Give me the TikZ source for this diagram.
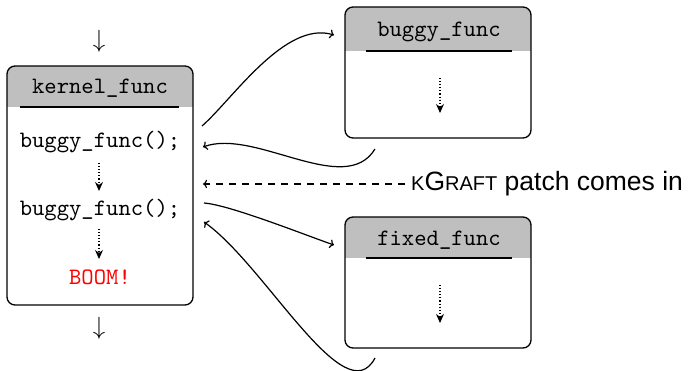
\documentclass[tikz,border=0pt]{standalone}
\usepackage{fontspec}
\newfontfamily\sansf{Liberation Sans}
\newfontfamily\monof{lmmono10-regular}[Extension=.otf]
\usetikzlibrary{arrows.meta}
\begin{document}
\begin{tikzpicture}[x=1pt,y=-1pt,
  funcbox/.style={draw, line width=1.3pt, rounded corners=8pt, inner sep=0pt,
    minimum width=186pt, minimum height=#1},
  head/.style={font=\fontsize{23.5}{28}\selectfont\monof, inner sep=0pt},
  code/.style={font=\fontsize{23.5}{28}\selectfont\monof, inner sep=0pt},
  flow/.style={dotted, line width=1.1pt, -{Stealth[length=9pt,width=8pt]}},
  conn/.style={line width=1.2pt, ->},
  hline/.style={line width=1.3pt}
]
\useasboundingbox (0,0) rectangle (689,371);

% kernel_func box
\begin{scope}
  \clip[rounded corners=8pt] (7,66) rectangle (193,305);
  \fill[gray!50] (7,66) rectangle (193,107);
\end{scope}
\node[funcbox=239pt] (kbox) at (100,185.5) {};
\draw[hline] (20,107) -- (179,107);
\node[head] (ktitle) at (100,88) {kernel\_func};
\node[code] (b1) at (100,142) {buggy\_func();};
\node[code] (b2) at (100,210) {buggy\_func();};
\node[code, text=red] (boom) at (100,277) {BOOM!};
\coordinate (d1s) at (99,163); \coordinate (d1e) at (99,191);
\coordinate (d2s) at (99,229); \coordinate (d2e) at (99,259);
\draw[flow] (d1s) -- (d1e);
\draw[flow] (d2s) -- (d2e);
\node[font=\fontsize{26}{30}\selectfont, inner sep=0pt] (inarr) at (99,41) {$\downarrow$};
\node[font=\fontsize{26}{30}\selectfont, inner sep=0pt] (outarr) at (99,328) {$\downarrow$};

% buggy_func box
\begin{scope}
  \clip[rounded corners=8pt] (345,7) rectangle (531,138);
  \fill[gray!50] (345,7) rectangle (531,51);
\end{scope}
\node[funcbox=131pt] (bbox) at (438,72.5) {};
\draw[hline] (366,51) -- (512,51);
\node[head] (btitle) at (439,32) {buggy\_func};
\coordinate (d3s) at (440,78); \coordinate (d3e) at (440,113);
\draw[flow] (d3s) -- (d3e);

% fixed_func box
\begin{scope}
  \clip[rounded corners=8pt] (345,217) rectangle (531,348);
  \fill[gray!50] (345,217) rectangle (531,258);
\end{scope}
\node[funcbox=131pt] (fbox) at (438,282.5) {};
\draw[hline] (366,258) -- (512,258);
\node[head] (ftitle) at (439,240) {fixed\_func};
\coordinate (d4s) at (440,285); \coordinate (d4e) at (440,323);
\draw[flow] (d4s) -- (d4e);

% connectors
\coordinate (c1s) at (202,126); \coordinate (c1e) at (334,35);
\draw[conn] (c1s) .. controls (232,100) and (285,20) .. (c1e);
\coordinate (c2s) at (375,149); \coordinate (c2e) at (203,147);
\draw[conn] (c2s) .. controls (345,198) and (255,128) .. (c2e);
\coordinate (c3s) at (204,203); \coordinate (c3e) at (334,245);
\draw[conn] (c3s) .. controls (230,205) and (305,235) .. (c3e);
\coordinate (c4s) at (375,358); \coordinate (c4e) at (204,222);
\draw[conn] (c4s) .. controls (345,415) and (265,265) .. (c4e);

% patch arrow
\node[anchor=west, inner sep=0pt, font=\sansf] (patch) at (411,184)
  {\fontsize{20}{24}\selectfont K\fontsize{26.5}{32}\selectfont G\fontsize{20}{24}\selectfont RAFT\fontsize{26.5}{32}\selectfont{} patch comes in};
\coordinate (pe) at (203,184);
\draw[line width=1.1pt, dash pattern=on 7pt off 6pt, ->] (patch.west) ++(-6,0) -- (pe);
\end{tikzpicture}
\end{document}
